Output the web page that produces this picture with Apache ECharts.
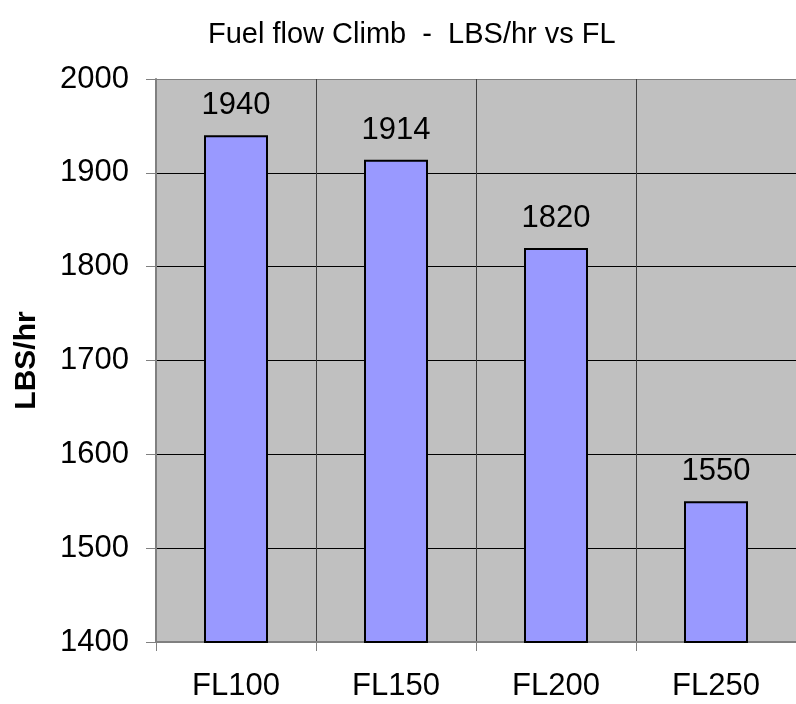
<!DOCTYPE html>
<html>
<head>
<meta charset="utf-8">
<script src="https://cdn.jsdelivr.net/npm/echarts@6/dist/echarts.min.js"></script>
<style>
  html, body { margin: 0; padding: 0; background: #fff; }
  #chart { width: 796px; height: 704px; }
</style>
</head>
<body>
<div id="chart"></div>
<script>
// Fuel flow in climb, by flight level
var levels = ['FL100', 'FL150', 'FL200', 'FL250'];
var fuelFlow = [1940, 1914, 1820, 1550];
var yTicks = [1400, 1500, 1600, 1700, 1800, 1900, 2000];

var font = '"Liberation Sans", Arial, sans-serif';
var chart = echarts.init(document.getElementById('chart'));

// gridlines black, top edge of the plot grey
var hLineColors = yTicks.map(function (v, i) {
    return i === yTicks.length - 1 ? '#808080' : '#000';
});

var option = {
    animation: false,
    title: {
        text: 'Fuel flow Climb  -  LBS/hr vs FL',
        left: 203,
        top: 15,
        textStyle: { fontFamily: font, fontSize: 29, fontWeight: 'normal', color: '#000' }
    },
    grid: {
        left: 156,
        right: 0,
        top: 79,
        bottom: 62,
        show: true,
        backgroundColor: '#c0c0c0',
        borderWidth: 0
    },
    xAxis: {
        type: 'category',
        data: levels,
        axisLine: { lineStyle: { color: '#808080', width: 2 } },
        axisTick: { show: true, length: 9, lineStyle: { color: '#808080', width: 1 } },
        axisLabel: { margin: 29, fontFamily: font, fontSize: 31, color: '#000' },
        splitLine: { show: true, lineStyle: { color: '#404040', width: 1 } }
    },
    yAxis: {
        type: 'value',
        min: yTicks[0],
        max: yTicks[yTicks.length - 1],
        interval: 100,
        name: 'LBS/hr',
        nameLocation: 'middle',
        nameGap: 114,
        nameTextStyle: { fontFamily: font, fontSize: 30, fontWeight: 'bold', color: '#000' },
        axisLine: { show: true, lineStyle: { color: '#808080', width: 2 } },
        axisTick: { show: true, length: 10, lineStyle: { color: '#808080', width: 1 } },
        axisLabel: {
            margin: 27,
            fontFamily: font,
            fontSize: 31,
            color: '#000',
            formatter: function (v) { return String(v); }
        },
        splitLine: { show: true, lineStyle: { color: hLineColors, width: 1 } }
    },
    series: [
        {
            type: 'bar',
            data: fuelFlow,
            barWidth: '40%',
            itemStyle: { color: '#9999ff', borderColor: '#000', borderWidth: 2 },
            label: {
                show: true,
                position: 'top',
                distance: 14,
                fontFamily: font,
                fontSize: 31,
                color: '#000'
            }
        }
    ]
};
chart.setOption(option);

window.onresize = chart.resize;
</script>
</body>
</html>
